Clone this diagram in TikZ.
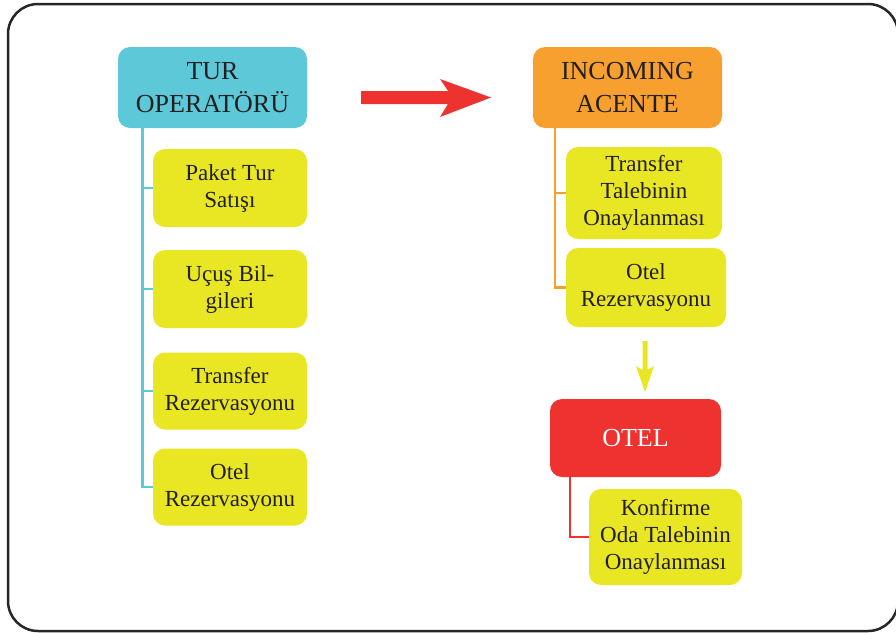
\documentclass[tikz,border=0pt]{standalone}
\usepackage{fontspec}
\setmainfont{LiberationSerif}[Extension=.ttf, UprightFont=*-Regular, BoldFont=*-Bold]
\definecolor{cyanbox}{RGB}{93,200,216}
\definecolor{orangebox}{RGB}{247,160,48}
\definecolor{redbox}{RGB}{238,50,48}
\definecolor{yellowbox}{RGB}{233,230,35}
\definecolor{txt}{RGB}{35,31,32}
\begin{document}
\begin{tikzpicture}[x=1pt,y=-1pt,
  box/.style={rounded corners=12pt, inner sep=0pt, align=center, text=txt},
  headbox/.style={box, minimum width=189pt, minimum height=81pt, font=\fontsize{26}{33}\selectfont},
  ybox/.style={box, fill=yellowbox, font=\fontsize{23}{27}\selectfont},
  conn/.style={line width=2.6pt}]
\useasboundingbox (0,0) rectangle (896,632);
\draw[line width=2.5pt, rounded corners=30pt, draw=black!85] (8,4) rectangle (898,631);

% left column
\node[headbox, fill=cyanbox] (tur) at (212.5,87.5) {TUR\\OPERATÖRÜ};
\node[ybox, minimum width=154pt, minimum height=78pt] (p1) at (230,188) {Paket Tur\\Satışı};
\node[ybox, minimum width=154pt, minimum height=78pt] (p2) at (230,289) {Uçuş Bil-\\gileri};
\node[ybox, minimum width=154pt, minimum height=77pt] (p3) at (230,391) {Transfer\\Rezervasyonu};
\node[ybox, minimum width=154pt, minimum height=77pt] (p4) at (230,487) {Otel\\Rezervasyonu};
\coordinate (lt) at (142.5,0);
\draw[conn, draw=cyanbox] (tur.south -| lt) -- (p4.west -| lt) -- (p4.west);
\foreach \n in {p1,p2,p3} \draw[conn, draw=cyanbox] (\n.west -| lt) -- (\n.west);

% red arrow
\fill[redbox] (361,91) -- (448,91) -- (440,79) -- (491,97.5) -- (440,117) -- (448,104) -- (361,104) -- cycle;

% right column
\node[headbox, fill=orangebox] (inc) at (627.5,87.5) {INCOMING\\ACENTE};
\node[ybox, minimum width=156pt, minimum height=92pt] (q1) at (644,193) {Transfer\\Talebinin\\Onaylanması};
\node[ybox, minimum width=160pt, minimum height=79pt] (q2) at (646,287.5) {Otel\\Rezervasyonu};
\coordinate (rt) at (555,0);
\draw[conn, draw=orangebox] (inc.south -| rt) -- (q2.west -| rt) -- (q2.west);
\draw[conn, draw=orangebox] (q1.west -| rt) -- (q1.west);

% yellow arrow
\fill[yellowbox] (642.5,341) -- (647.5,341) -- (647.5,370) -- (654,366) -- (645,392) -- (636,366) -- (642.5,370) -- cycle;

% otel
\node[headbox, fill=redbox, text=white, minimum width=171pt, minimum height=78pt] (otel) at (635.5,438) {OTEL};
\node[ybox, minimum width=153pt, minimum height=96pt] (k1) at (665.5,537) {Konfirme\\Oda Talebinin\\Onaylanması};
\coordinate (ot) at (570,0);
\draw[conn, draw=redbox] (otel.south -| ot) -- (k1.west -| ot) -- (k1.west);
\end{tikzpicture}
\end{document}
